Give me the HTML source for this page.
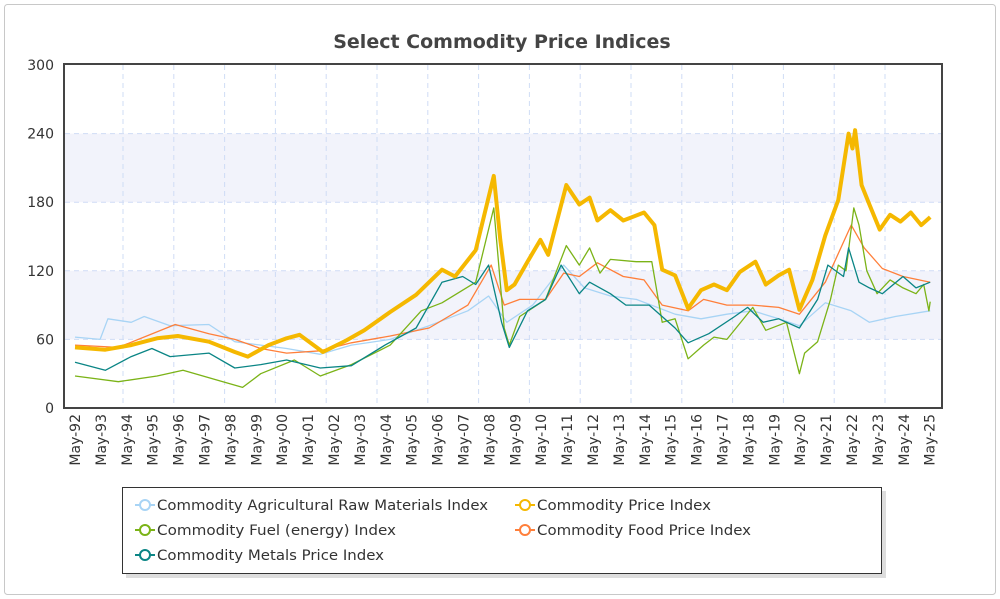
<!DOCTYPE html>
<html><head><meta charset="utf-8"><style>
body{margin:0;background:#fff;width:1000px;height:599px;overflow:hidden}
svg{display:block;font-family:"DejaVu Sans","Liberation Sans",sans-serif}
</style></head><body>
<svg id="chart" width="1000" height="599">
<rect x="4.5" y="4.5" width="991" height="590" rx="3" fill="#fff" stroke="#c8c8c8"/>
<text x="502" y="48" text-anchor="middle" font-size="19" font-weight="bold" fill="#444">Select Commodity Price Indices</text>
<g id="bands"></g><g id="grid"></g><g id="series"></g>
<rect x="64" y="64" width="878" height="344" fill="none" stroke="#444" stroke-width="2"/>
<g id="yticks"></g><g id="xticks"></g>
<g>
<rect x="126" y="491" width="760" height="87" fill="#bbb" opacity="0.5"/>
<rect x="122.5" y="487.5" width="759" height="86" fill="#fff" stroke="#333"/>
<g id="legend"></g>
</g>
</svg>
<script>
const NS="http://www.w3.org/2000/svg";
const yTicks=[0,60,120,180,240,300];
const xLabels=["May-92","May-93","May-94","May-95","May-96","May-97","May-98","May-99","May-00","May-01","May-02","May-03","May-04","May-05","May-06","May-07","May-08","May-09","May-10","May-11","May-12","May-13","May-14","May-15","May-16","May-17","May-18","May-19","May-20","May-21","May-22","May-23","May-24","May-25"];
const agrT=[1992.33,1993.3,1993.6,1994.5,1995,1996,1997.5,1998.5,1999.5,2000.5,2001.8,2003,2004.5,2006,2007.5,2008.3,2009,2010,2011.2,2012,2013,2014,2015.5,2016.5,2017.5,2018.5,2019.5,2020.3,2021.3,2022.3,2023,2024,2025.35];
const agrV=[62,60,78,75,80,72,73,58,55,52,47,55,60,72,85,98,75,90,125,105,98,95,82,78,82,85,78,72,92,85,75,80,85];
const fuelT=[1992.33,1994,1995.5,1996.5,1998.8,1999.5,2000.8,2001.8,2003,2004.5,2005.7,2006.5,2007.8,2008.5,2008.9,2009.1,2009.5,2010.5,2011.3,2011.8,2012.2,2012.6,2013,2014,2014.6,2015,2015.5,2016,2016.6,2017,2017.5,2018.5,2019,2019.8,2020.3,2020.5,2021,2021.5,2021.8,2022.1,2022.4,2022.6,2022.9,2023.3,2023.8,2024.3,2024.8,2025.1,2025.3,2025.35];
const fuelV=[28,23,28,33,18,30,42,28,38,55,85,92,110,175,70,55,80,95,142,125,140,118,130,128,128,75,78,43,55,62,60,88,68,75,30,48,58,95,125,120,175,160,120,100,112,105,100,108,85,93];
const foodT=[1992.33,1994,1996.2,1997.5,1998.5,1999.5,2000.5,2001.8,2003,2004.5,2006,2007.5,2008.4,2008.9,2009.5,2010.5,2011.2,2011.8,2012.5,2013.5,2014.3,2015,2016,2016.6,2017.5,2018.5,2019.5,2020.3,2021.3,2022.3,2022.8,2023.5,2024.3,2025.35];
const foodV=[55,53,73,65,60,52,48,50,57,63,70,90,125,90,95,95,118,115,127,115,112,90,85,95,90,90,88,82,110,160,140,122,115,110];
const metT=[1992.33,1993.5,1994.5,1995.3,1996,1997.5,1998.5,1999.5,2000.5,2001.8,2003,2004.3,2005.5,2006.5,2007.3,2007.8,2008.3,2008.8,2009.1,2009.8,2010.5,2011.1,2011.8,2012.2,2013,2013.6,2014.5,2015.5,2016,2016.8,2017.8,2018.3,2018.9,2019.5,2020.3,2021,2021.4,2022,2022.2,2022.6,2023,2023.5,2024.3,2024.8,2025.35];
const metV=[40,33,45,52,45,48,35,38,42,35,37,55,70,110,115,108,125,75,53,85,95,125,100,110,100,90,90,70,57,65,80,88,75,78,70,95,125,115,140,110,105,100,115,105,110];
const cpiT=[1992.33,1993.5,1994.5,1995.5,1996.3,1997.5,1998.5,1999,1999.8,2000.5,2001,2001.9,2002.8,2003.5,2004.5,2005.5,2006.5,2007,2007.8,2008.5,2008.75,2009,2009.3,2009.8,2010.3,2010.6,2011,2011.3,2011.8,2012.2,2012.5,2013,2013.5,2014.3,2014.7,2015,2015.5,2016,2016.5,2017,2017.5,2018,2018.6,2019,2019.5,2019.9,2020.3,2020.8,2021.3,2021.8,2022.2,2022.35,2022.45,2022.7,2023,2023.4,2023.8,2024.2,2024.6,2025,2025.35];
const cpiV=[53,51,55,61,63,58,49,45,55,61,64,49,59,68,84,99,121,115,138,203,147,103,108,128,147,134,169,195,178,184,164,173,164,171,160,121,116,87,103,108,103,119,128,108,116,121,86,112,151,182,240,227,243,195,178,156,169,163,171,160,167];
const X=t=>75+25.9*(t-1992.33);
const Y=v=>408-v*343/300;
function el(tag,attrs,parent){const e=document.createElementNS(NS,tag);for(const k in attrs)e.setAttribute(k,attrs[k]);parent.appendChild(e);return e;}
const g=id=>document.getElementById(id);
[[60,120],[180,240]].forEach(b=>{
const r=el('rect',{x:65,y:Y(b[1]),width:876,height:Y(b[0])-Y(b[1]),fill:'#f2f3fb'},g('bands'));


});
yTicks.forEach(v=>{
if(v>0&&v<300){const l=el('line',{x1:65,x2:941,y1:Y(v),y2:Y(v),stroke:'#cfdcf5','stroke-dasharray':'5,4'},g('grid'));

}
const t=el('text',{x:54,y:Y(v)+5,'text-anchor':'end','font-size':14,fill:'#333'},g('yticks'));
t.textContent=v;


});
for(let k=0;k<16;k++){const x=123+50.8*k;
const l=el('line',{x1:x,x2:x,y1:65,y2:407,stroke:'#cfdcf5','stroke-dasharray':'5,4'},g('grid'));

}
xLabels.forEach((s,i)=>{const x=X(1992.33+i)+5;
const t=el('text',{x:0,y:0,transform:`translate(${x},414) rotate(-90)`,'text-anchor':'end','font-size':14,fill:'#333'},g('xticks'));
t.textContent=s;


});
function line(T,V,color,w,name){
const d=T.map((t,i)=>(i?'L':'M')+X(t).toFixed(1)+','+Y(V[i]).toFixed(1)).join('');
const p=el('path',{d:d,fill:'none',stroke:color,'stroke-width':w,'stroke-linejoin':'round'},g('series'));


}
line(agrT,agrV,'#a8d4f5',1.3,'series-agricultural');
line(foodT,foodV,'#ff7f3a',1.3,'series-food');
line(fuelT,fuelV,'#7bb317',1.3,'series-fuel');
line(metT,metV,'#0a8585',1.3,'series-metals');
line(cpiT,cpiV,'#f5b800',4,'series-commodity-price');
const leg=[["Commodity Agricultural Raw Materials Index","#a8d4f5",145,505,331],["Commodity Price Index","#f5b800",525,505,174],["Commodity Fuel (energy) Index","#7bb317",145,530,239],["Commodity Food Price Index","#ff7f3a",525,530,214],["Commodity Metals Price Index","#0a8585",145,555,227]];
leg.forEach(e=>{
const gg=el('g',{},g('legend'));


el('line',{x1:e[2]-10,x2:e[2]+10,y1:e[3],y2:e[3],stroke:e[1],'stroke-width':2},gg);
el('circle',{cx:e[2],cy:e[3],r:5,fill:'#fff',stroke:e[1],'stroke-width':2},gg);
const t=el('text',{x:e[2]+12,y:e[3]+5,'font-size':14,fill:'#333',textLength:e[4],lengthAdjust:'spacingAndGlyphs'},gg);
t.textContent=e[0];
});
</script>
</body></html>
